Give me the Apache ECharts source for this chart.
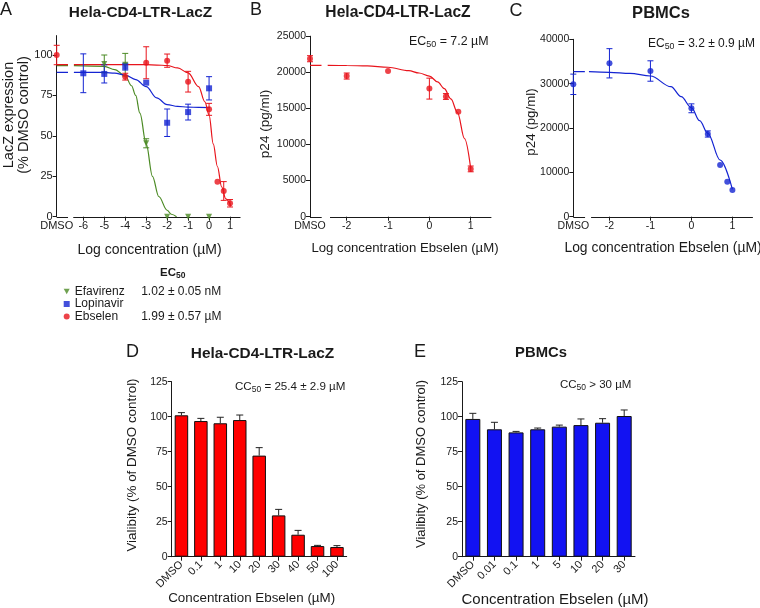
<!DOCTYPE html>
<html>
<head>
<meta charset="utf-8">
<script src="https://cdn.jsdelivr.net/npm/echarts@6/dist/echarts.min.js"></script>
<style>
  html, body { margin: 0; padding: 0; background: #fff; }
  #chart { width: 760px; height: 608px; }
</style>
</head>
<body>
<div id="chart"></div>
<script>
const FONT = '"Liberation Sans", Arial, Helvetica, sans-serif'
const INK = '#1a1a1a'
const RED = '#e8141c'
const BLUE = '#1424d2'
const GREEN = '#4b8a24'

// ---- Panel A: LacZ expression (% DMSO control) vs log concentration (uM)
const aTickLabels = ['DMSO', '-6', '-5', '-4', '-3', '-2', '-1', '0', '1']
const aLegendNames = ['Efavirenz', 'Lopinavir', 'Ebselen']
const aEc50Text = ['1.02 \u00b1 0.05 nM', '', '1.99 \u00b1 0.57 \u00b5M']

const efavirenzX = [-5, -4, -3, -2, -1, 0]
const efavirenzY = [94.5, 94, 45.4, 0, 0, 0]
const efavirenzErr = [5.5, 7, 2.8, 0, 0, 0]

const lopinavirX = [-6, -5, -4, -3, -2, -1, 0]
const lopinavirY = [88.7, 88.3, 92.8, 82.9, 58.1, 64.7, 79.4]
const lopinavirErr = [12, 5.6, 2.1, 0, 8.5, 4.9, 7.2]

const ebselenX = ['DMSO', -4, -3, -2, -1, 0, 0.4, 0.7, 1]
const ebselenY = [100, 86.6, 95.2, 96.5, 83.5, 66.4, 21.6, 15.9, 8.3]
const ebselenErr = [6, 2.1, 9.9, 4.1, 6.4, 3.7, 0, 5.8, 2.3]

// fitted curves (null = gap at the axis break)
const efavirenzCurveX = ['DMSO', -6.73, -6.6, -6.45, -5, -4.5, -4, -3.7, -3.5, -3.3, -3, -2.7, -2.4, -2, -1.8, -1.55]
const efavirenzCurveY = [93.4, 93.4, null, 93.4, 93, 91, 87, 81, 75, 64, 45, 25, 12.5, 4, 1.5, 0]
const lopinavirCurveX = ['DMSO', -6.73, -6.6, -6.45, -5, -4.5, -4, -3.5, -3, -2.5, -2, -1.5, -1, -0.5, 0.05]
const lopinavirCurveY = [89.3, 89.3, null, 89.3, 89.2, 88.8, 87.6, 84.8, 80.4, 73.5, 69.3, 68.2, 67.8, 67.6, 67.5]
const ebselenCurveX = ['DMSO', -6.73, -6.6, -6.45, -5, -4, -3, -2.5, -2, -1.5, -1, -0.5, -0.2, 0, 0.2, 0.4, 0.6, 0.8, 1.05]
const ebselenCurveY = [94, 94, null, 94, 94, 94, 94, 93.8, 93.5, 92, 89, 80.5, 71, 63, 45, 31, 18.5, 11, 6.5]

// ---- Panel B: p24 (pg/ml), Hela-CD4-LTR-LacZ
const bTickLabels = ['DMSO', '-2', '-1', '0', '1']
const bX = ['DMSO', -2, -1, 0, 0.4, 0.7, 1]
const bY = [21880, 19480, 20180, 17740, 16650, 14540, 6620]
const bErr = [420, 420, 0, 1450, 400, 0, 400]
const bCurveX = ['DMSO', -2.61, -2.5, -2.46, -2, -1.5, -1, -0.5, -0.25, 0, 0.2, 0.36, 0.52, 0.68, 0.85, 1.0]
const bCurveY = [20950, 20950, null, 20950, 20940, 20880, 20700, 20220, 19900, 19480, 18670, 17730, 16310, 14420, 10800, 6650]

// ---- Panel C: p24 (pg/ml), PBMCs
const cTickLabels = ['DMSO', '-2', '-1', '0', '1']
const cX = ['DMSO', -2, -1, 0, 0.4, 0.7, 0.875, 1]
const cY = [29850, 34590, 32850, 24440, 18650, 11660, 7900, 6020]
const cErr = [2300, 3300, 2300, 1000, 700, 0, 0, 0]
const cCurveX = ['DMSO', -2.6, -2.57, -2.5, -2, -1.5, -1, -0.5, -0.25, 0, 0.2, 0.4, 0.7, 1.0]
const cCurveY = [32700, 32700, null, 32700, 32560, 32330, 31720, 29310, 27060, 24580, 21650, 18800, 12780, 6180]

// ---- Panel D: viability, Hela-CD4-LTR-LacZ
const dCategories = ['DMSO', '0.1', '1', '10', '20', '30', '40', '50', '100']
const dValues = [101, 96.9, 95.3, 97.6, 72.2, 29.5, 15.7, 7.6, 6.9]
const dErr = [1.9, 1.9, 4.3, 3.6, 5.7, 4.3, 3.1, 0.5, 1.0]

// ---- Panel E: viability, PBMCs
const eCategories = ['DMSO', '0.01', '0.1', '1', '5', '10', '20', '30']
const eValues = [98.4, 91, 88.8, 91, 92.9, 94, 95.7, 100.5]
const eErr = [4, 5, 0.7, 0.9, 1.1, 4.4, 2.9, 4.3]

// where "DMSO" sits on each log axis (left of the axis break)
const A_DMSO = -7.27
const B_DMSO = -2.888
const C_DMSO = -2.882

const pos = (v, dmso) => (v === 'DMSO' ? dmso : v)
const pts = (xs, ys, dmso) => xs.map((x, i) => [pos(x, dmso), ys[i]])
const errPts = (xs, ys, es, dmso) => xs.map((x, i) => [pos(x, dmso), ys[i], es[i]])
const curvePts = (xs, ys, dmso) => xs.map((x, i) => [pos(x, dmso), ys[i] == null ? '-' : ys[i]])
const tickPos = (labels, dmso) => labels.map(l => (l === 'DMSO' ? dmso : Number(l)))

const DOWN_TRIANGLE = 'path://M0,0L10,0L5,9Z'

function errorBar(color, capHalf, upOnly) {
  return (params, api) => {
    const x = api.value(0), y = api.value(1), e = api.value(2)
    if (!e) return null
    const top = api.coord([x, y + e])
    const bot = api.coord([x, upOnly ? y : y - e])
    const style = { stroke: color, lineWidth: 1 }
    const children = [
      { type: 'line', shape: { x1: top[0], y1: top[1], x2: bot[0], y2: bot[1] }, style },
      { type: 'line', shape: { x1: top[0] - capHalf, y1: top[1], x2: top[0] + capHalf, y2: top[1] }, style }
    ]
    if (!upOnly) {
      children.push({ type: 'line', shape: { x1: bot[0] - capHalf, y1: bot[1], x2: bot[0] + capHalf, y2: bot[1] }, style })
    }
    return { type: 'group', children }
  }
}

function axisSegment(params, api) {
  const a = api.coord([api.value(0), 0])
  const b = api.coord([api.value(1), 0])
  const y = Math.round(a[1]) + 0.5
  return { type: 'line', shape: { x1: a[0], y1: y, x2: b[0], y2: y }, style: { stroke: INK, lineWidth: 1 } }
}

function logXAxis(idx, dmso, labels, fontSize) {
  const ticks = tickPos(labels, dmso)
  return {
    gridIndex: idx, type: 'value', min: dmso, max: 1.5,
    axisLine: { show: false },
    splitLine: { show: false },
    axisTick: { show: true, length: 4, lineStyle: { color: INK }, customValues: ticks.slice(1) },
    axisLabel: {
      customValues: ticks, margin: 4, fontSize, fontFamily: FONT, color: INK,
      formatter: v => labels[ticks.indexOf(v)] ?? ''
    }
  }
}

function valueYAxis(idx, max, labelValues, fontSize) {
  return {
    gridIndex: idx, type: 'value', min: 0, max,
    axisLine: { show: true, onZero: false, lineStyle: { color: INK } },
    splitLine: { show: false },
    axisTick: { show: true, length: 4, lineStyle: { color: INK }, customValues: labelValues },
    axisLabel: { customValues: labelValues, margin: 4, fontSize, fontFamily: FONT, color: INK, formatter: v => String(v) }
  }
}

function catXAxis(idx, cats) {
  return {
    gridIndex: idx, type: 'category', data: cats,
    axisLine: { show: true, lineStyle: { color: INK } },
    axisTick: { show: true, alignWithLabel: true, length: 4, lineStyle: { color: INK } },
    axisLabel: { interval: 0, rotate: 45, margin: 6, fontSize: 11, fontFamily: FONT, color: INK }
  }
}

function txt(x, y, text, size, o = {}) {
  return {
    type: 'text', x, y, rotation: o.rotation || 0, silent: true,
    style: {
      text, fontSize: size, fontFamily: FONT, fontWeight: o.weight || 'normal', fill: INK,
      align: o.align || 'center', verticalAlign: 'middle', lineHeight: o.lineHeight, rich: o.rich
    }
  }
}

function subText(x, y, parts, size, subSize, o = {}) {
  // parts: [before, subscript, after]
  const w = o.weight || 'normal'
  return txt(x, y, `{b|${parts[0]}}{s|${parts[1]}}{b|${parts[2]}}`, size, {
    align: o.align || 'left', weight: w,
    rich: {
      b: { fontSize: size, fontFamily: FONT, fontWeight: w, color: INK },
      s: { fontSize: subSize, fontFamily: FONT, fontWeight: w, color: INK, padding: [6, 0, 0, 0] }
    }
  })
}

const ROT = Math.PI / 2

const option = {
  animation: false,
  backgroundColor: '#fff',
  textStyle: { fontFamily: FONT },
  grid: [
    { left: 56.7, top: 35.6, width: 183.8, height: 181.1 },
    { left: 310, top: 36.2, width: 181.4, height: 180.5 },
    { left: 573.3, top: 39.3, width: 179.6, height: 177.4 },
    { left: 171.7, top: 381.7, width: 175, height: 175 },
    { left: 462, top: 381.7, width: 173, height: 175 }
  ],
  xAxis: [
    logXAxis(0, A_DMSO, aTickLabels, 11),
    logXAxis(1, B_DMSO, bTickLabels, 10.5),
    logXAxis(2, C_DMSO, cTickLabels, 10.5),
    catXAxis(3, dCategories),
    catXAxis(4, eCategories)
  ],
  yAxis: [
    valueYAxis(0, 112, [0, 25, 50, 75, 100], 11),
    valueYAxis(1, 25000, [0, 5000, 10000, 15000, 20000, 25000], 10.5),
    valueYAxis(2, 40000, [0, 10000, 20000, 30000, 40000], 10.5),
    valueYAxis(3, 125, [0, 25, 50, 75, 100, 125], 10.5),
    valueYAxis(4, 125, [0, 25, 50, 75, 100, 125], 10.5)
  ],
  legend: {
    data: aLegendNames.map(name => (name === 'Efavirenz' ? { name, icon: DOWN_TRIANGLE } : name)),
    orient: 'vertical', left: 58.7, top: 280.5,
    itemWidth: 6, itemHeight: 6, itemGap: 0.5,
    selectedMode: false,
    textStyle: {
      fontSize: 12, lineHeight: 12, color: INK, fontFamily: FONT,
      rich: {
        n: { width: 66.5, fontSize: 12, fontFamily: FONT, color: INK },
        v: { fontSize: 12, fontFamily: FONT, color: INK }
      }
    },
    formatter: name => `{n|${name}}{v|${aEc50Text[aLegendNames.indexOf(name)]}}`
  },
  series: [
    // axis breaks
    { type: 'custom', xAxisIndex: 0, yAxisIndex: 0, renderItem: axisSegment, silent: true,
      data: [[A_DMSO, -6.73], [-6.48, 1.5]] },
    { type: 'custom', xAxisIndex: 1, yAxisIndex: 1, renderItem: axisSegment, silent: true,
      data: [[B_DMSO, -2.605], [-2.404, 1.5]] },
    { type: 'custom', xAxisIndex: 2, yAxisIndex: 2, renderItem: axisSegment, silent: true,
      data: [[C_DMSO, -2.595], [-2.448, 1.5]] },

    // panel A curves
    { name: 'Efavirenz fit', type: 'line', xAxisIndex: 0, yAxisIndex: 0, data: curvePts(efavirenzCurveX, efavirenzCurveY, A_DMSO),
      symbol: 'none', smooth: 0.35, smoothMonotone: 'x', lineStyle: { color: GREEN, width: 1.2 }, z: 2 },
    { name: 'Lopinavir fit', type: 'line', xAxisIndex: 0, yAxisIndex: 0, data: curvePts(lopinavirCurveX, lopinavirCurveY, A_DMSO),
      symbol: 'none', smooth: 0.35, smoothMonotone: 'x', lineStyle: { color: BLUE, width: 1.2 }, z: 2 },
    { name: 'Ebselen fit', type: 'line', xAxisIndex: 0, yAxisIndex: 0, data: curvePts(ebselenCurveX, ebselenCurveY, A_DMSO),
      symbol: 'none', smooth: 0.35, smoothMonotone: 'x', lineStyle: { color: RED, width: 1.2 }, z: 2 },

    // panel A error bars
    { type: 'custom', xAxisIndex: 0, yAxisIndex: 0, renderItem: errorBar(GREEN, 3, false), silent: true,
      data: errPts(efavirenzX, efavirenzY, efavirenzErr, A_DMSO), z: 3 },
    { type: 'custom', xAxisIndex: 0, yAxisIndex: 0, renderItem: errorBar(BLUE, 3, false), silent: true,
      data: errPts(lopinavirX, lopinavirY, lopinavirErr, A_DMSO), z: 3 },
    { type: 'custom', xAxisIndex: 0, yAxisIndex: 0, renderItem: errorBar(RED, 3, false), silent: true,
      data: errPts(ebselenX, ebselenY, ebselenErr, A_DMSO), z: 3 },

    // panel A points
    { name: 'Efavirenz', type: 'scatter', xAxisIndex: 0, yAxisIndex: 0, data: pts(efavirenzX, efavirenzY, A_DMSO),
      symbol: DOWN_TRIANGLE, symbolSize: 6, itemStyle: { color: GREEN }, clip: false, z: 4 },
    { name: 'Lopinavir', type: 'scatter', xAxisIndex: 0, yAxisIndex: 0, data: pts(lopinavirX, lopinavirY, A_DMSO),
      symbol: 'rect', symbolSize: 6, itemStyle: { color: BLUE }, clip: false, z: 4 },
    { name: 'Ebselen', type: 'scatter', xAxisIndex: 0, yAxisIndex: 0, data: pts(ebselenX, ebselenY, A_DMSO),
      symbol: 'circle', symbolSize: 6, itemStyle: { color: RED }, clip: false, z: 4 },

    // panel B
    { name: 'B fit', type: 'line', xAxisIndex: 1, yAxisIndex: 1, data: curvePts(bCurveX, bCurveY, B_DMSO),
      symbol: 'none', smooth: 0.35, smoothMonotone: 'x', lineStyle: { color: RED, width: 1.2 }, z: 2 },
    { type: 'custom', xAxisIndex: 1, yAxisIndex: 1, renderItem: errorBar(RED, 3, false), silent: true,
      data: errPts(bX, bY, bErr, B_DMSO), z: 3 },
    { name: 'B p24', type: 'scatter', xAxisIndex: 1, yAxisIndex: 1, data: pts(bX, bY, B_DMSO),
      symbolSize: 6, itemStyle: { color: RED }, clip: false, z: 4 },

    // panel C
    { name: 'C fit', type: 'line', xAxisIndex: 2, yAxisIndex: 2, data: curvePts(cCurveX, cCurveY, C_DMSO),
      symbol: 'none', smooth: 0.35, smoothMonotone: 'x', lineStyle: { color: BLUE, width: 1.2 }, z: 2 },
    { type: 'custom', xAxisIndex: 2, yAxisIndex: 2, renderItem: errorBar(BLUE, 3, false), silent: true,
      data: errPts(cX, cY, cErr, C_DMSO), z: 3 },
    { name: 'C p24', type: 'scatter', xAxisIndex: 2, yAxisIndex: 2, data: pts(cX, cY, C_DMSO),
      symbolSize: 6, itemStyle: { color: BLUE }, clip: false, z: 4 },

    // panel D
    { name: 'D viability', type: 'bar', xAxisIndex: 3, yAxisIndex: 3, data: dValues, barWidth: 13.5,
      itemStyle: { color: '#ff0000', borderColor: '#111', borderWidth: 1 } },
    { type: 'custom', xAxisIndex: 3, yAxisIndex: 3, renderItem: errorBar('#222', 3.5, true), silent: true,
      data: dValues.map((v, i) => [i, v, dErr[i]]), z: 3 },

    // panel E
    { name: 'E viability', type: 'bar', xAxisIndex: 4, yAxisIndex: 4, data: eValues, barWidth: 15,
      itemStyle: { color: '#1212f2', borderColor: '#111', borderWidth: 1 } },
    { type: 'custom', xAxisIndex: 4, yAxisIndex: 4, renderItem: errorBar('#222', 3.5, true), silent: true,
      data: eValues.map((v, i) => [i, v, eErr[i]]), z: 3 }
  ],
  graphic: [
    // panel letters
    txt(6, 10, 'A', 18), txt(256, 10, 'B', 18), txt(516, 11, 'C', 18),
    txt(132.5, 352.5, 'D', 18), txt(420, 352, 'E', 18),
    // panel titles
    txt(140.5, 13, 'Hela-CD4-LTR-LacZ', 15.4, { weight: 'bold' }),
    txt(398, 13, 'Hela-CD4-LTR-LacZ', 15.6, { weight: 'bold' }),
    txt(661, 13, 'PBMCs', 16.5, { weight: 'bold' }),
    txt(262.5, 353.3, 'Hela-CD4-LTR-LacZ', 15.4, { weight: 'bold' }),
    txt(541, 353.3, 'PBMCs', 14.8, { weight: 'bold' }),
    // y axis names
    txt(16.6, 115, 'LacZ expression\n(% DMSO control)', 14.5, { rotation: ROT, lineHeight: 15 }),
    txt(265, 124, 'p24 (pg/ml)', 13.5, { rotation: ROT }),
    txt(531, 122, 'p24 (pg/ml)', 13.3, { rotation: ROT }),
    txt(132.5, 465, 'Vialibity (% of DMSO control)', 13.4, { rotation: ROT }),
    txt(421.7, 464, 'Vialibity (% of DMSO control)', 13, { rotation: ROT }),
    // x axis names
    txt(149.5, 250, 'Log concentration (\u00b5M)', 14),
    txt(405, 248, 'Log concentration Ebselen (\u00b5M)', 13.2),
    txt(663, 248, 'Log concentration Ebselen (\u00b5M)', 13.9),
    txt(251.7, 598, 'Concentration Ebselen (\u00b5M)', 13.4),
    txt(555, 600, 'Concentration Ebselen (\u00b5M)', 15),
    // annotations
    subText(160, 273, ['EC', '50', ''], 11.5, 8.5, { weight: 'bold' }),
    subText(409, 41.7, ['EC', '50', ' = 7.2 \u00b5M'], 12.4, 9),
    subText(648, 43.3, ['EC', '50', ' = 3.2 \u00b1 0.9 \u00b5M'], 12, 8.8),
    subText(235, 386.7, ['CC', '50', ' = 25.4 \u00b1 2.9 \u00b5M'], 11.6, 8.5),
    subText(560, 385, ['CC', '50', ' > 30 \u00b5M'], 11.5, 8.5)
  ]
}

const chart = echarts.init(document.getElementById('chart'), null, { renderer: 'canvas' })
chart.setOption(option)
</script>
</body>
</html>
